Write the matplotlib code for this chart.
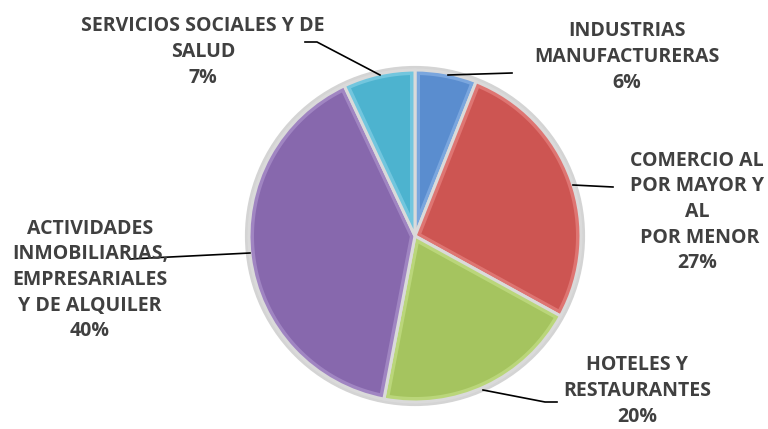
import numpy as np
import matplotlib.pyplot as plt
from matplotlib.patches import Polygon, Circle

# data
sectores = ['INDUSTRIAS\nMANUFACTURERAS', 'COMERCIO AL\nPOR MAYOR Y\nAL\n POR MENOR',
            'HOTELES Y\nRESTAURANTES',
            'ACTIVIDADES\nINMOBILIARIAS,\nEMPRESARIALES\nY DE ALQUILER',
            'SERVICIOS SOCIALES Y DE\nSALUD']
porcentajes = [6, 27, 20, 40, 7]
colores = ['#5a8dcf', '#cd5552', '#a5c45f', '#8768ad', '#4db3cf']
bordes = ['#7aa6de', '#de7572', '#bad67a', '#a085c2', '#72c6de']

W, H = 768, 429
fig = plt.figure(figsize=(W / 100, H / 100), dpi=100)
ax = fig.add_axes([0, 0, 1, 1])

cx, cy, R = 415, H - 236, 166

# soft outer ring
ax.add_patch(Circle((cx, cy), R + 2, facecolor='none', edgecolor='#d4d4d4', lw=3, zorder=1))

wedges, _ = ax.pie(porcentajes, colors=bordes, startangle=90, counterclock=False,
                   radius=R, center=(cx, cy), frame=True,
                   wedgeprops=dict(edgecolor='#dadada', linewidth=2.2))
for w in wedges:
    w.set_zorder(2)

# inner bevel faces
d = 5
for w, c in zip(wedges, colores):
    t1, t2 = np.radians(w.theta1), np.radians(w.theta2)
    half = (t2 - t1) / 2
    mid = t1 + half
    shift = d / np.sin(half)
    P = np.array([cx, cy]) + shift * np.array([np.cos(mid), np.sin(mid)])
    Ri = R - d
    angs = []
    for t in (t1, t2):
        u = np.array([np.cos(t), np.sin(t)])
        q = P - np.array([cx, cy])
        b = q @ u
        s = -b + np.sqrt(b * b - (q @ q - Ri * Ri))
        p = q + s * u
        angs.append(np.arctan2(p[1], p[0]))
    a1, a2 = angs
    if a2 < a1:
        a2 += 2 * np.pi
    arc = np.linspace(a1, a2, 80)
    pts = [P] + [np.array([cx + Ri * np.cos(a), cy + Ri * np.sin(a)]) for a in arc]
    ax.add_patch(Polygon(pts, closed=True, facecolor=c, edgecolor='none', zorder=3))

ax.set_xlim(0, W)
ax.set_ylim(0, H)
ax.set_aspect('equal')
ax.axis('off')

# labels
txt = dict(ha='center', va='center', fontsize=14, fontweight='bold', color='#404040',
           family=['Open Sans', 'DejaVu Sans'], linespacing=1.38, zorder=5)
etiquetas = [f'{s}\n{p}%' for s, p in zip(sectores, porcentajes)]
pos = [(627, 57), (697, 212), (637, 391), (90, 280), (203, 52)]
for (x, y), t in zip(pos, etiquetas):
    ax.text(x, H - y, t, **txt)

# leader lines
lineas = [[(448, 75), (512, 73)],
          [(573, 185), (613, 187)],
          [(483, 390), (545, 402), (557, 402)],
          [(250, 253), (130, 259)],
          [(380, 75), (317, 42), (305, 42)]]
for l in lineas:
    xs = [p[0] for p in l]
    ys = [H - p[1] for p in l]
    ax.plot(xs, ys, color='black', lw=1.2, zorder=4)

plt.savefig('out.png', dpi=100)
